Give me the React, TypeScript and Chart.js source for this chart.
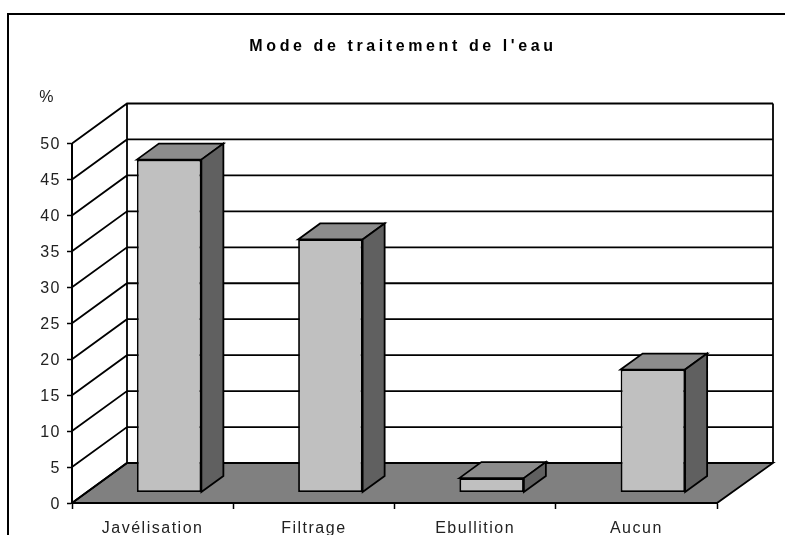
import React, { useEffect, useRef } from "react";
import { Chart, registerables } from "chart.js";

Chart.register(...registerables);

const categories = ["Javélisation", "Filtrage", "Ebullition", "Aucun"];
const percentages = [46.3, 35.2, 2, 17.1];
const chartTitle = "Mode de traitement de l'eau";
const axisUnit = "%";

const FONT = "'Liberation Sans', Arial, sans-serif";
const WALL_DX = 55, WALL_DY = -40;
const BAR_DX = 16.5, BAR_DY = -10.5;
const BAR_DEPTH_X = 22, BAR_DEPTH_Y = -16;

const poly = (ctx: CanvasRenderingContext2D, pts: number[][], fill: string | null, lw = 1.8) => {
  ctx.beginPath();
  pts.forEach(([x, y], i) => (i ? ctx.lineTo(x, y) : ctx.moveTo(x, y)));
  ctx.closePath();
  if (fill) { ctx.fillStyle = fill; ctx.fill(); }
  ctx.lineWidth = lw;
  ctx.strokeStyle = "#000";
  ctx.stroke();
};

const scene = {
  id: "scene3d",
  beforeDraw(chart: any) {
    const ctx: CanvasRenderingContext2D = chart.ctx;
    const tb = chart.titleBlock;
    if (tb && !tb.__spaced) {
      const orig = tb.draw.bind(tb);
      tb.draw = (...a: any[]) => {
        ctx.save();
        ctx.translate(8.5, 0);
        (ctx as any).letterSpacing = "3.6px";
        orig(...a);
        ctx.restore();
      };
      tb.__spaced = true;
    }
    (ctx as any).letterSpacing = "1.5px";
    const { left, right, bottom } = chart.chartArea;
    const y = chart.scales.y;

    ctx.save();
    ctx.lineJoin = "miter";
    // outer frame: left and top edges only, running off the page
    ctx.strokeStyle = "#000";
    ctx.lineWidth = 2;
    ctx.beginPath();
    ctx.moveTo(8, 535);
    ctx.lineTo(8, 14);
    ctx.lineTo(785, 14);
    ctx.stroke();

    // floor
    poly(ctx, [
      [left, bottom],
      [left + WALL_DX, bottom + WALL_DY],
      [right + WALL_DX + 1, bottom + WALL_DY],
      [right, bottom],
    ], "#808080");

    // walls and gridlines
    ctx.lineWidth = 1.8;
    ctx.strokeStyle = "#000";
    ctx.beginPath();
    y.ticks.forEach((t: any) => {
      const py = y.getPixelForValue(t.value);
      ctx.moveTo(left, py);
      ctx.lineTo(left + WALL_DX, py + WALL_DY);
      ctx.lineTo(right + WALL_DX + 1, py + WALL_DY);
    });
    const top = y.getPixelForValue(50) + WALL_DY;
    const floor = y.getPixelForValue(0) + WALL_DY;
    ctx.moveTo(left + WALL_DX, top);
    ctx.lineTo(left + WALL_DX, floor);
    ctx.moveTo(right + WALL_DX + 1, top);
    ctx.lineTo(right + WALL_DX + 1, floor);
    ctx.stroke();

    // unit label
    ctx.fillStyle = "#222";
    ctx.font = `16px ${FONT}`;
    ctx.textAlign = "center";
    ctx.textBaseline = "middle";
    ctx.fillText(axisUnit, 47, 98);
    ctx.restore();
  },
  beforeDatasetsDraw(chart: any) {
    const ctx: CanvasRenderingContext2D = chart.ctx;
    ctx.save();
    ctx.translate(BAR_DX, BAR_DY);
    ctx.lineJoin = "miter";
    chart.getDatasetMeta(0).data.forEach((bar: any) => {
      const { x, y, width, base } = bar.getProps(["x", "y", "width", "base"], true);
      const l = x - width / 2, r = x + width / 2;
      poly(ctx, [
        [l, y], [l + BAR_DEPTH_X, y + BAR_DEPTH_Y],
        [r + BAR_DEPTH_X, y + BAR_DEPTH_Y], [r, y],
      ], "#8c8c8c");
      poly(ctx, [
        [r, y], [r + BAR_DEPTH_X, y + BAR_DEPTH_Y],
        [r + BAR_DEPTH_X, base + BAR_DEPTH_Y], [r, base],
      ], "#606060");
    });
  },
  afterDatasetsDraw(chart: any) {
    chart.ctx.restore();
  },
};

export default function App() {
  const ref = useRef<HTMLCanvasElement | null>(null);
  useEffect(() => {
    if (!ref.current) return;
    const chart = new Chart(ref.current, {
      type: "bar",
      data: {
        labels: categories,
        datasets: [{
          data: percentages,
          backgroundColor: "#c0c0c0",
          borderColor: "#000",
          borderWidth: 1.8,
          borderSkipped: false,
          barPercentage: 0.4,
          categoryPercentage: 1,
          clip: false,
        } as any],
      },
      plugins: [scene],
      options: {
        animation: false,
        responsive: false,
        layout: { padding: { left: 0, right: 68, top: 0, bottom: 0 } },
        plugins: {
          legend: { display: false },
          tooltip: { enabled: false },
          title: {
            display: true,
            text: chartTitle,
            fullSize: false,
            color: "#000",
            font: { family: FONT, size: 16, weight: "bold", lineHeight: 1.2 },
            padding: { top: 37, bottom: 87.3 },
          },
        },
        scales: {
          x: {
            afterFit: (s: any) => { s.height = 32; },
            border: { color: "#000", width: 2 },
            grid: { drawOnChartArea: false, drawTicks: true, tickLength: 6, tickColor: "#000", tickWidth: 1.5 },
            ticks: { color: "#222", font: { family: FONT, size: 16 }, padding: 9.5, maxRotation: 0, autoSkip: false },
          },
          y: {
            min: 0,
            max: 50,
            afterFit: (s: any) => { s.width = 72; },
            border: { color: "#000", width: 2 },
            grid: { drawOnChartArea: false, drawTicks: true, tickLength: 5, tickColor: "#000", tickWidth: 1.5 },
            ticks: { stepSize: 5, color: "#222", font: { family: FONT, size: 16 }, padding: 6, labelOffset: 1.5 },
          },
        },
      } as any,
    });
    return () => chart.destroy();
  }, []);
  return (
    <canvas
      ref={ref}
      width={785}
      height={535}
      style={{ position: "absolute", left: 0, top: 0, width: 785, height: 535 }}
    />
  );
}
